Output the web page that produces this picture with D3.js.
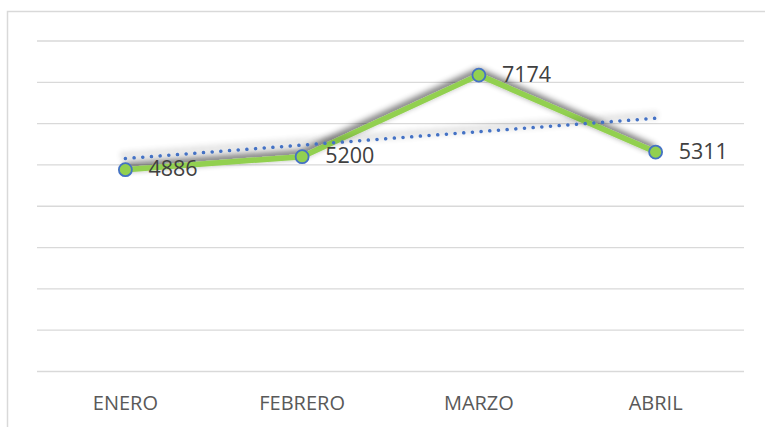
<!DOCTYPE html>
<html>
<head>
<meta charset="utf-8">
<script src="https://cdn.jsdelivr.net/npm/d3@7"></script>
<style>
  body { margin: 0; background: #fff; }
  svg { display: block; }
</style>
</head>
<body>
<div id="chart"></div>
<script>
const months = ["ENERO", "FEBRERO", "MARZO", "ABRIL"];
const sales = [4886, 5200, 7174, 5311];
const yTicks = [0, 1000, 2000, 3000, 4000, 5000, 6000, 7000, 8000];

const width = 765;
const height = 427;
const margin = { top: 41, right: 21, bottom: 55.5, left: 37 };

const data = months.map((m, i) => ({ month: m, value: sales[i] }));

const svg = d3.select("#chart").append("svg")
    .attr("width", width)
    .attr("height", height);

svg.append("rect")
    .attr("width", width).attr("height", height)
    .attr("fill", "#fff");

// chart frame (cropped on right and bottom)
svg.append("rect")
    .attr("x", 7.5).attr("y", 11.5)
    .attr("width", 900).attr("height", 600)
    .attr("fill", "none")
    .attr("stroke", "#d9d9d9")
    .attr("stroke-width", 1.5);

const defs = svg.append("defs");
const shadow = defs.append("filter")
    .attr("id", "shadow")
    .attr("x", "-20%").attr("y", "-50%")
    .attr("width", "140%").attr("height", "200%");
shadow.append("feGaussianBlur").attr("in", "SourceAlpha").attr("stdDeviation", 3.5).attr("result", "blur");
shadow.append("feOffset").attr("in", "blur").attr("dx", -1.5).attr("dy", -3.5).attr("result", "off");
shadow.append("feComponentTransfer").attr("in", "off").attr("result", "soft")
    .append("feFuncA").attr("type", "linear").attr("slope", 0.75);
const merge = shadow.append("feMerge");
merge.append("feMergeNode").attr("in", "soft");
merge.append("feMergeNode").attr("in", "SourceGraphic");

const x = d3.scaleBand()
    .domain(months)
    .range([margin.left, width - margin.right]);

const y = d3.scaleLinear()
    .domain([0, 8000])
    .range([height - margin.bottom, margin.top]);

// gridlines
svg.append("g")
    .selectAll("line")
    .data(yTicks)
    .join("line")
    .attr("x1", margin.left)
    .attr("x2", width - margin.right)
    .attr("y1", d => y(d))
    .attr("y2", d => y(d))
    .attr("stroke", "#d9d9d9")
    .attr("stroke-width", 1.3);

// x axis labels
const xAxis = d3.axisBottom(x).tickSize(0).tickPadding(24);
svg.append("g")
    .attr("transform", `translate(0,${height - margin.bottom})`)
    .call(xAxis)
    .call(g => g.select(".domain").remove())
    .selectAll("text")
    .attr("font-family", "'Open Sans', sans-serif")
    .attr("font-size", 20)
    .attr("fill", "#595959");

const cx = d => x(d.month) + x.bandwidth() / 2;

// main line
const line = d3.line()
    .x(cx)
    .y(d => y(d.value));

svg.append("path")
    .datum(data)
    .attr("d", line)
    .attr("fill", "none")
    .attr("stroke", "#92d050")
    .attr("stroke-width", 5.5)
    .attr("stroke-linejoin", "round")
    .attr("filter", "url(#shadow)");

// linear trendline (least squares on the series)
const n = sales.length;
const xm = (n + 1) / 2;
const ym = d3.mean(sales);
const slope = d3.sum(sales, (v, i) => (i + 1 - xm) * (v - ym)) / d3.sum(sales, (v, i) => (i + 1 - xm) ** 2);
const trend = [1, n].map(k => ({ month: months[k - 1], value: ym + slope * (k - xm) }));

svg.append("path")
    .datum(trend)
    .attr("d", line)
    .attr("fill", "none")
    .attr("stroke", "#4472c4")
    .attr("stroke-width", 3.5)
    .attr("stroke-linecap", "round")
    .attr("stroke-dasharray", "0.1 8.6")
    .attr("filter", "url(#shadow)");

// markers
svg.append("g")
    .selectAll("circle")
    .data(data)
    .join("circle")
    .attr("cx", cx)
    .attr("cy", d => y(d.value))
    .attr("r", 6.5)
    .attr("fill", "#92d050")
    .attr("stroke", "#4472c4")
    .attr("stroke-width", 1.8);

// data labels
svg.append("g")
    .selectAll("text")
    .data(data)
    .join("text")
    .attr("x", d => cx(d) + 23)
    .attr("y", d => y(d.value) + 1)
    .attr("dominant-baseline", "middle")
    .attr("font-family", "'Open Sans', sans-serif")
    .attr("font-size", 21.5)
    .attr("fill", "#404040")
    .text(d => d.value);
</script>
</body>
</html>
